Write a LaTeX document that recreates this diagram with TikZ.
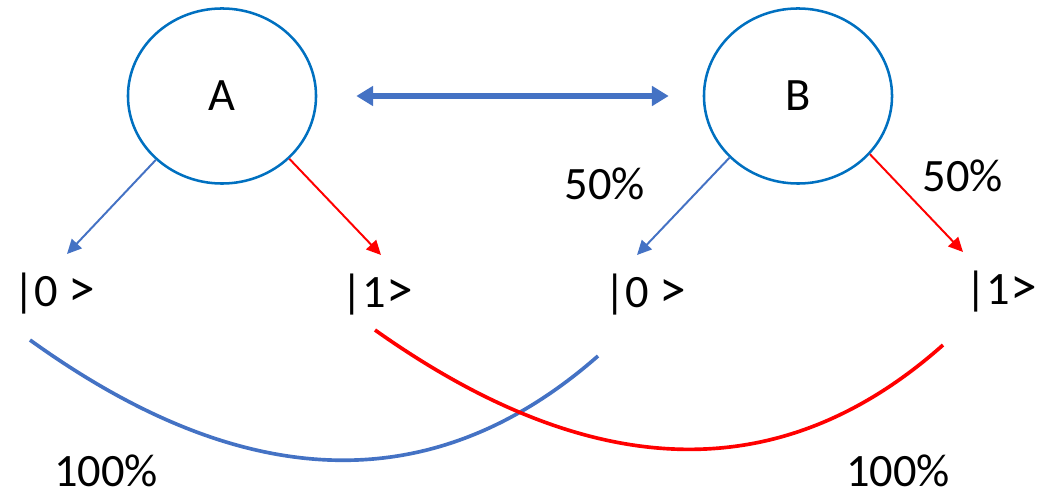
\documentclass[tikz,border=0pt]{standalone}
\usepackage{fontspec}
\setmainfont{Carlito}
\usetikzlibrary{shapes.geometric,arrows.meta}

\definecolor{bleu}{HTML}{4472C4}
\definecolor{bord}{HTML}{0070C0}
\definecolor{rouge}{HTML}{FF0000}

\newcommand{\chevron}{\scalebox{1.15}{>}}

\tikzset{
    qubit/.style={ellipse, draw=bord, line width=1.8pt, inner sep=0pt,
        minimum width=4.7cm, minimum height=4.375cm, font=\fontsize{33}{40}\selectfont},
    etat/.style={anchor=base, inner sep=0pt, font=\fontsize{33}{40}\selectfont},
    fleche/.style={line width=1.4pt, -{Triangle[length=0.36cm, width=0.34cm]}},
    courbe/.style={line width=2.6pt}
}

\begin{document}
\begin{tikzpicture}[x=0.025cm, y=-0.025cm]

\useasboundingbox (0,0) rectangle (1038,497);

% Qubits
\node[qubit] (A) at (222,96) {A};
\node[qubit] (B) at (798,96) {B};

\draw[bleu, line width=3.6pt, shorten <=0.975cm, shorten >=0.85cm,
    {Triangle[length=0.42cm, width=0.48cm]}-{Triangle[length=0.42cm, width=0.48cm]}]
    (A.east) -- (B.west);

% Etats de A
\node[etat] (A0) at (54,307) {|0 \chevron};
\node[etat] (A1) at (377,308) {|1\chevron};

\coordinate (pA0) at (67,254);
\coordinate (pA1) at (381,255);

\draw[fleche, bleu] (A.224) -- (pA0);
\draw[fleche, rouge] (A.317) -- (pA1);

% Etats de B
\node[etat] (B0) at (645,308) {|0 \chevron};
\node[etat] (B1) at (1001,305) {|1\chevron};

\coordinate (pB0) at (637,255);
\coordinate (pB1) at (963,252);

\draw[fleche, bleu] (B.222) -- (pB0);
\draw[fleche, rouge] (B.321) -- (pB1);

\node[etat] (pc0) at (605,200) {50\%};
\node[etat] (pc1) at (963,192) {50\%};

% Correlations
\coordinate (c0a) at (30,340);
\coordinate (c0b) at (598,356);
\coordinate (c1a) at (375,330);
\coordinate (c1b) at (943,345);

\draw[courbe, bleu] (c0a) .. controls (245,495) and (434,500) .. (c0b);
\draw[courbe, rouge] (c1a) .. controls (592,484) and (781,489) .. (c1b);

\node[etat] (pc2) at (106,486) {100\%};
\node[etat] (pc3) at (898,486) {100\%};

\end{tikzpicture}
\end{document}
